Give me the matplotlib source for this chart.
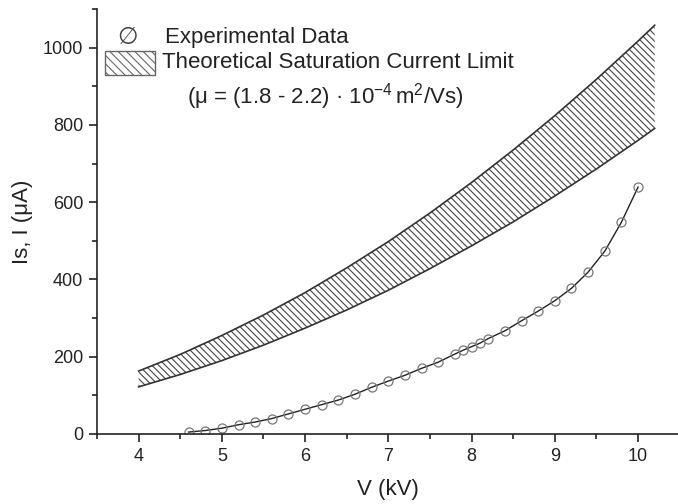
import numpy as np
import matplotlib
matplotlib.use('Agg')
import matplotlib.pyplot as plt
from matplotlib.patches import Rectangle
from matplotlib.ticker import MultipleLocator

# experimental data (V in kV, I in uA)
v_exp = [4.6, 4.8, 5.0, 5.2, 5.4, 5.6, 5.8, 6.0, 6.2, 6.4, 6.6, 6.8, 7.0, 7.2, 7.4,
         7.6, 7.8, 7.9, 8.0, 8.1, 8.2, 8.4, 8.6, 8.8, 9.0, 9.2, 9.4, 9.6, 9.8, 10.0]
i_exp = [5, 9, 15, 24, 31, 40, 52, 64, 76, 88, 103, 121, 137, 152, 170,
         186, 207, 217, 226, 235, 247, 267, 293, 318, 345, 377, 419, 473, 548, 639]

# theoretical saturation current band
v_th = [4.0, 4.5, 5.0, 5.5, 6.0, 6.5, 7.0, 7.5, 8.0, 8.5, 9.0, 9.5, 10.0, 10.2]
i_upper = [163, 206, 255, 308, 366, 430, 498, 572, 651, 735, 824, 918, 1017, 1058]
i_lower = [122, 154, 190, 230, 274, 321, 372, 428, 487, 549, 616, 686, 760, 791]

plt.rcParams['font.family'] = ['Liberation Sans', 'DejaVu Sans']
plt.rcParams['mathtext.fontset'] = 'custom'
plt.rcParams['mathtext.rm'] = 'Liberation Sans'
plt.rcParams['mathtext.it'] = 'Liberation Sans:italic'
plt.rcParams['hatch.linewidth'] = 0.8
plt.rcParams['hatch.color'] = '#444444'

fig = plt.figure(figsize=(6.78, 5.04), dpi=100)
ax = fig.add_axes([97/678, 70/504, 581/678, 425/504])

hatch = '\\' * 5
ax.fill_between(v_th, i_lower, i_upper, facecolor='white', edgecolor='#444444',
                hatch=hatch, linewidth=0)
ax.plot(v_th, i_upper, color='#333333', lw=1.2)
ax.plot(v_th, i_lower, color='#333333', lw=1.2)

ax.plot(v_exp, i_exp, color='#222222', lw=1.0)
ax.plot(v_exp, i_exp, ls='none', marker='o', ms=6.5, mfc='none', mec='#777777', mew=0.9)

ax.set_xlim(3.5, 10.48)
ax.set_ylim(0, 1100)
ax.xaxis.set_major_locator(MultipleLocator(1))
ax.xaxis.set_minor_locator(MultipleLocator(0.5))
ax.yaxis.set_major_locator(MultipleLocator(200))
ax.yaxis.set_minor_locator(MultipleLocator(100))
for s in ['top', 'right']:
    ax.spines[s].set_visible(False)
for s in ['left', 'bottom']:
    ax.spines[s].set_linewidth(1.2)
    ax.spines[s].set_color('#222222')
ax.tick_params(which='major', direction='out', length=6, width=1.2, labelsize=13,
               colors='#222222', pad=4)
ax.tick_params(which='minor', direction='out', length=3.5, width=1.2, colors='#222222')

ax.set_xlabel('V (kV)', fontsize=16, color='#222222', labelpad=10)
ax.set_ylabel('Is, I (μA)', fontsize=16, color='#222222', labelpad=7)

# legend drawn by hand
tc = '#222222'
ax.text(0.053, 0.934, '∅', transform=ax.transAxes, fontsize=17, color='#444444',
        ha='center', va='center', family='DejaVu Sans')
ax.text(0.117, 0.934, 'Experimental Data', transform=ax.transAxes, fontsize=16,
        color=tc, va='center')
ax.add_patch(Rectangle((0.0138, 0.845), 0.086, 0.056, transform=ax.transAxes,
                       facecolor='white', edgecolor='#666666', hatch='\\' * 4, lw=1.0))
ax.text(0.112, 0.873, 'Theoretical Saturation Current Limit', transform=ax.transAxes,
        fontsize=16, color=tc, va='center')
ax.text(0.155, 0.793, r'(μ = (1.8 - 2.2) · 10$^{\mathrm{-4}}$$\,$m$^{\mathrm{2}}$/Vs)',
        transform=ax.transAxes, fontsize=16, color=tc, va='center')

fig.savefig('out.png', dpi=100)
